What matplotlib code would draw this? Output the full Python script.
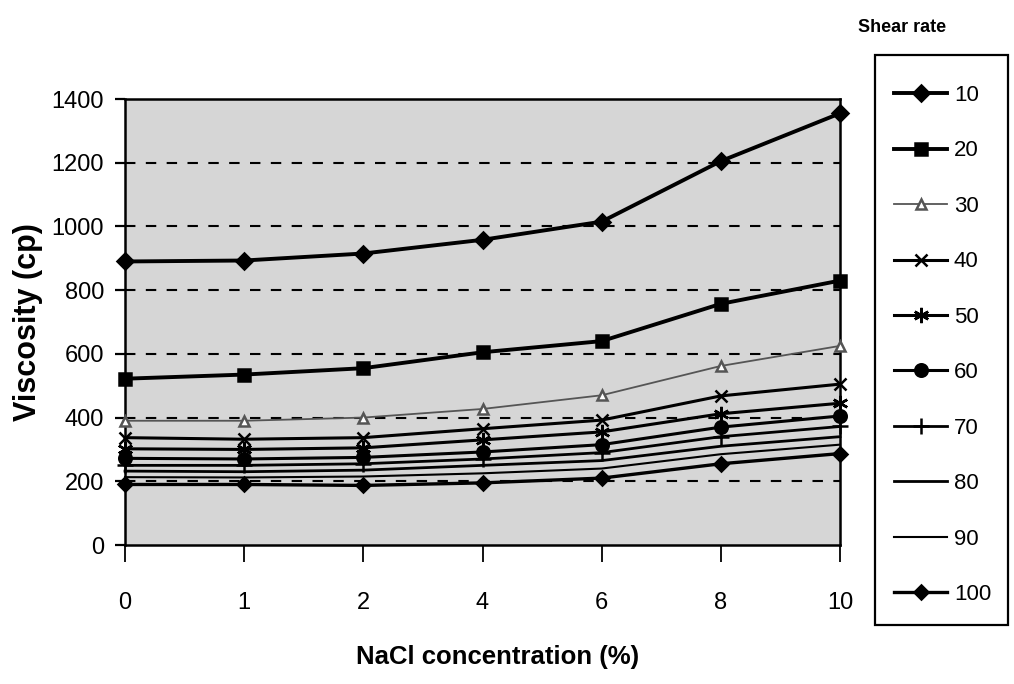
import matplotlib.pyplot as plt
from matplotlib.patches import Rectangle
import numpy as np

plt.rcParams['font.family'] = ['Liberation Sans', 'DejaVu Sans']

# NaCl concentration (%) categories
nacl = ['0', '1', '2', '4', '6', '8', '10']

# viscosity (cp) for each shear rate
shear_rates = [10, 20, 30, 40, 50, 60, 70, 80, 90, 100]
v10 = [890, 893, 915, 958, 1015, 1205, 1355]
v20 = [522, 535, 555, 605, 640, 757, 830]
v30 = [390, 390, 400, 427, 470, 562, 625]
v40 = [337, 332, 337, 365, 392, 468, 505]
v50 = [302, 300, 305, 330, 355, 412, 445]
v60 = [272, 270, 275, 292, 315, 370, 405]
v70 = [250, 250, 255, 270, 290, 340, 372]
v80 = [232, 230, 235, 250, 265, 310, 340]
v90 = [213, 212, 215, 225, 240, 285, 315]
v100 = [190, 190, 187, 195, 210, 255, 287]
series = [v10, v20, v30, v40, v50, v60, v70, v80, v90, v100]

# line style per series: marker, marker size, line width, colour, marker face
styles = [
    ('D', 8, 2.8, 'black', 'black'),
    ('s', 8, 2.8, 'black', 'black'),
    ('^', 7, 1.3, '#555555', 'white'),
    ('x', 9, 2.2, 'black', 'black'),
    ((6, 2, 0), 11, 2.2, 'black', 'black'),
    ('o', 9, 2.2, 'black', 'black'),
    ('+', 11, 2.0, 'black', 'black'),
    (None, 0, 2.0, 'black', 'black'),
    (None, 0, 1.5, 'black', 'black'),
    ('D', 7, 2.4, 'black', 'black'),
]

W, H = 1014, 684
fig = plt.figure(figsize=(W / 100, H / 100), dpi=100)
ax = fig.add_axes([125 / W, 1 - 545 / H, 715 / W, 446 / H])
ax.set_facecolor('#d6d6d6')

x = np.arange(len(nacl))
for rate, vals, (mk, ms, lw, col, mfc) in zip(shear_rates, series, styles):
    ax.plot(x, vals, color=col, lw=lw, marker=mk, ms=ms, mfc=mfc,
            mec=col, mew=1.8, label=str(rate), clip_on=False, zorder=3)

ax.set_xlim(0, len(nacl) - 1)
ax.set_ylim(0, 1400)
ax.set_yticks(np.arange(0, 1401, 200))
ax.set_xticks(x)
ax.set_xticklabels(nacl)

for yv in np.arange(200, 1400, 200):
    ax.axhline(yv, color='black', lw=1.5, ls=(0, (5, 5)), zorder=1)

for sp in ax.spines.values():
    sp.set_linewidth(1.8)
    sp.set_color('black')

ax.tick_params(axis='y', direction='out', length=7, width=1.6, pad=8,
               labelsize=17)
ax.tick_params(axis='x', direction='out', length=12, width=1.3, pad=22,
               labelsize=17)

ax.set_ylabel('Viscosity (cp)', fontsize=22, fontweight='bold')
ax.yaxis.set_label_coords((43 - 125) / 715, 0.5)

ax.set_xlabel('NaCl concentration (%)', fontsize=18.5, fontweight='bold')
ax.xaxis.set_label_coords((498 - 125) / 715, -(657 - 545) / 446)
ax.xaxis.label.set_va('center')

# legend entries without frame, box drawn separately
leg = ax.legend(loc='upper left', bbox_to_anchor=(894 / W, 1 - 85 / H),
                bbox_transform=fig.transFigure, borderaxespad=0,
                fontsize=16, frameon=False, handlelength=2.4,
                labelspacing=1.55, borderpad=0, handletextpad=0.3)
fig.patches.append(Rectangle((875 / W, 1 - 625 / H), 133 / W, 570 / H,
                             transform=fig.transFigure, fill=False,
                             edgecolor='black', lw=1.6))

fig.text(902 / W, 1 - 27 / H, 'Shear rate', fontsize=13,
         fontweight='bold', ha='center', va='center')

fig.savefig('out.png', dpi=100)
